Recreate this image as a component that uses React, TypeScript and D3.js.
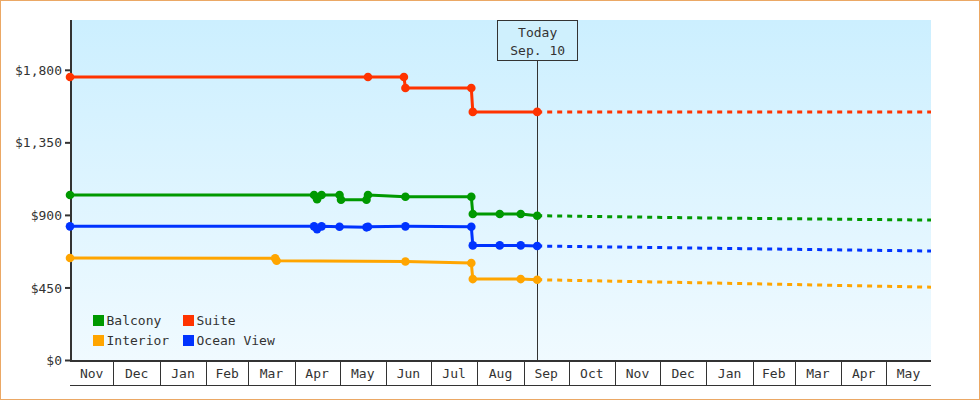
import React from "react";
import * as d3 from "d3";

type Pt = [string, number];

const categories = ["Balcony", "Suite", "Interior", "Ocean View"];
const colors = ["#009900", "#ff3300", "#ffa500", "#0033ff"];

const balconyHistory: Pt[] = [
  ["2013-11-02", 1027], ["2014-04-14", 1027], ["2014-04-16", 1000], ["2014-04-19", 1027],
  ["2014-05-01", 1027], ["2014-05-02", 997], ["2014-05-19", 997], ["2014-05-20", 1027],
  ["2014-06-14", 1016], ["2014-07-28", 1016], ["2014-07-29", 909], ["2014-08-16", 909],
  ["2014-08-30", 909], ["2014-09-10", 898],
];
const balconyForecast: Pt[] = [["2014-09-10", 898], ["2015-01-01", 884], ["2015-05-31", 871]];

const suiteHistory: Pt[] = [
  ["2013-11-02", 1758], ["2014-05-20", 1758], ["2014-06-13", 1758], ["2014-06-14", 1690],
  ["2014-07-28", 1690], ["2014-07-29", 1542], ["2014-09-10", 1542],
];
const suiteForecast: Pt[] = [["2014-09-10", 1542], ["2015-05-31", 1542]];

const interiorHistory: Pt[] = [
  ["2013-11-02", 636], ["2014-03-19", 634], ["2014-03-20", 619], ["2014-06-14", 614],
  ["2014-07-28", 605], ["2014-07-29", 505], ["2014-08-30", 505], ["2014-09-10", 501],
];
const interiorForecast: Pt[] = [["2014-09-10", 501], ["2015-05-31", 455]];

const oceanHistory: Pt[] = [
  ["2013-11-02", 832], ["2014-04-14", 832], ["2014-04-16", 815], ["2014-04-19", 832],
  ["2014-05-01", 830], ["2014-05-19", 826], ["2014-05-20", 830], ["2014-06-14", 832],
  ["2014-07-28", 830], ["2014-07-29", 714], ["2014-08-16", 714], ["2014-08-30", 714],
  ["2014-09-10", 710],
];
const oceanForecast: Pt[] = [["2014-09-10", 710], ["2015-05-31", 679]];

const histories = [balconyHistory, suiteHistory, interiorHistory, oceanHistory];
const forecasts = [balconyForecast, suiteForecast, interiorForecast, oceanForecast];

const yTicks = [0, 450, 900, 1350, 1800];
const yMax = 2112;
const domainStart = "2013-11-02";
const domainEnd = "2015-05-31";
const todayDate = "2014-09-10";
const todayLabel = ["Today", "Sep. 10"];

const parse = d3.timeParse("%Y-%m-%d");
const FONT = "'DejaVu Sans Mono', monospace";
const INK = "#333333";

export default function App() {
  const W = 980, H = 400;
  const left = 70, right = 931, top = 20, bottom = 360.5;
  const x = d3.scaleTime().domain([parse(domainStart)!, parse(domainEnd)!]).range([left, right]);
  const y = d3.scaleLinear().domain([0, yMax]).range([bottom, top]);
  const line = d3.line<Pt>().x((d) => x(parse(d[0])!)).y((d) => y(d[1]));

  const [d0, d1] = x.domain();
  const monthStarts = d3.timeMonth.range(d3.timeMonth.floor(d0), d1);
  const cells = monthStarts
    .map((m) => {
      const a = Math.max(x(m), left);
      const b = Math.min(x(d3.timeMonth.offset(m, 1)), right);
      return { m, a, b };
    })
    .filter((c) => c.b - c.a > 5);
  const fmtMonth = d3.timeFormat("%b");
  const fmtMoney = (v: number) => "$" + d3.format(",")(v);
  const tx = x(parse(todayDate)!);

  const legendPos = [
    [93, 315], [183, 315], [93, 335], [183, 335],
  ];

  return (
    <div style={{ position: "absolute", left: 0, top: 0 }}>
      <svg width={W} height={H} style={{ display: "block" }}>
        <defs>
          <linearGradient id="bg" x1="0" y1="0" x2="0" y2="1">
            <stop offset="0%" stopColor="#ccefff" />
            <stop offset="100%" stopColor="#f0faff" />
          </linearGradient>
        </defs>
        <rect x={0.5} y={0.5} width={W - 1} height={H - 1} fill="#ffffff" stroke="#eba865" />
        <rect x={left} y={top} width={right - left} height={bottom - top} fill="url(#bg)" />

        {/* y axis */}
        <line x1={left + 1} x2={left + 1} y1={top} y2={bottom + 1} stroke={INK} strokeWidth={2} />
        {yTicks.map((t) => (
          <g key={t}>
            <line x1={left - 5} x2={left} y1={y(t)} y2={y(t)} stroke={INK} strokeWidth={2} />
            <text x={62} y={y(t)} dy="0.35em" textAnchor="end" fontFamily={FONT} fontSize={13} fill={INK}>
              {fmtMoney(t)}
            </text>
          </g>
        ))}

        {/* x axis cells */}
        <line x1={left} x2={right} y1={bottom + 0.5} y2={bottom + 0.5} stroke={INK} strokeWidth={2} />
        <line x1={left} x2={right} y1={385.5} y2={385.5} stroke={INK} strokeWidth={1} />
        {cells.map((c, i) => (
          <g key={i}>
            {i > 0 && (
              <line x1={Math.round(c.a) + 0.5} x2={Math.round(c.a) + 0.5} y1={bottom} y2={385.5} stroke={INK} strokeWidth={1} />
            )}
            <text x={(c.a + c.b) / 2} y={378} textAnchor="middle" fontFamily={FONT} fontSize={13} fill={INK}>
              {fmtMonth(c.m)}
            </text>
          </g>
        ))}

        {/* today marker */}
        <line x1={Math.round(tx) + 0.5} x2={Math.round(tx) + 0.5} y1={60} y2={bottom} stroke={INK} strokeWidth={1} />
        <rect x={Math.round(tx) - 39.5} y={20.5} width={80} height={40} fill="#cff0fd" stroke={INK} strokeWidth={1} />
        <text x={tx + 0.5} y={37} textAnchor="middle" fontFamily={FONT} fontSize={13} fill={INK}>{todayLabel[0]}</text>
        <text x={tx + 0.5} y={55} textAnchor="middle" fontFamily={FONT} fontSize={13} fill={INK}>{todayLabel[1]}</text>

        {/* series */}
        {categories.map((c, i) => (
          <g key={c}>
            <path d={line(forecasts[i]) || ""} fill="none" stroke={colors[i]} strokeWidth={3} strokeDasharray="5,5" />
            <path d={line(histories[i]) || ""} fill="none" stroke={colors[i]} strokeWidth={3} strokeLinejoin="round" />
            {histories[i].map((d, j) => (
              <circle key={j} cx={x(parse(d[0])!)} cy={y(d[1])} r={4.3} fill={colors[i]} />
            ))}
          </g>
        ))}

        {/* legend */}
        {categories.map((c, i) => (
          <g key={c}>
            <rect x={legendPos[i][0]} y={legendPos[i][1]} width={11} height={11} fill={colors[i]} />
            <text x={legendPos[i][0] + 13.5} y={legendPos[i][1] + 10} fontFamily={FONT} fontSize={13} fill={INK}>
              {c}
            </text>
          </g>
        ))}
      </svg>
    </div>
  );
}
